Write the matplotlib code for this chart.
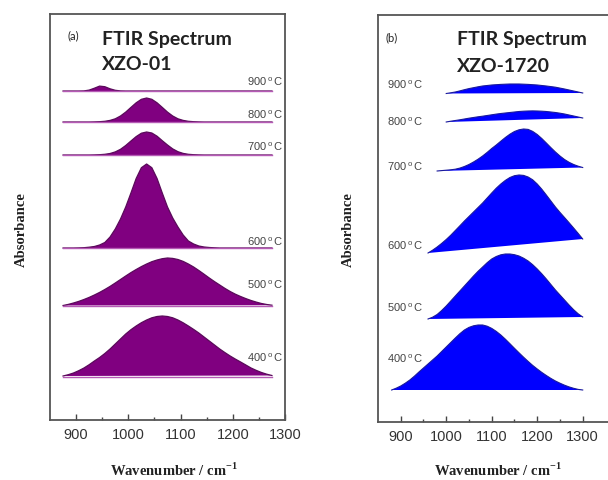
import numpy as np
import matplotlib
matplotlib.use('Agg')
import matplotlib.pyplot as plt

plt.rcParams['mathtext.fontset'] = 'custom'
plt.rcParams['mathtext.rm'] = 'Liberation Serif:bold'
plt.rcParams['mathtext.sf'] = 'Liberation Sans'

temps = ['400', '500', '600', '700', '800', '900']
nan = np.nan

# (a) XZO-01: wavenumber grid and absorbance of each spectrum (arb. units)
wn_a = [875, 885, 895, 905, 915, 925, 935, 945, 955, 965, 975, 985, 995, 1005,
        1015, 1025, 1035, 1045, 1055, 1065, 1075, 1085, 1095, 1105, 1115, 1125,
        1135, 1145, 1155, 1165, 1175, 1185, 1195, 1205, 1215, 1225, 1235, 1245,
        1255, 1265, 1275]
a400 = [1, 2.3, 4, 6.3, 9, 12.3, 16, 19.5, 23.5, 28, 33, 38, 43, 47.3, 51, 54.3,
        57, 59.2, 60.5, 61, 60.5, 59.2, 57, 54.2, 51, 47.6, 44, 40, 36, 32, 28,
        24.4, 21, 17.9, 15, 12, 9, 6.6, 4.5, 2.8, 1.5]
a500 = [0.5, 1.6, 3, 4.6, 6.5, 8.6, 11, 13.6, 16.5, 19.6, 23, 26.5, 30, 33.4,
        36.5, 39.4, 42, 44.3, 46, 47.3, 48, 47.6, 46.5, 44.6, 42, 39, 35.5, 31.8,
        28, 24.4, 21, 17.6, 14.5, 11.8, 9.5, 7.4, 5.5, 3.9, 2.5, 1.5, 0.8]
a600 = [0, 0, 0, 0.1, 0.3, 0.8, 1.5, 3, 5.5, 11, 19, 29, 41, 55, 69.5, 80.3, 84,
        80.3, 69.5, 55, 41, 30, 21, 13, 7, 4, 2, 1, 0.5, 0.2,
        0, 0, 0, 0, 0, 0, 0, 0, 0, 0, 0]
a700 = [0, 0, 0, 0, 0, 0, 0.1, 0.3, 0.7, 1.5, 3.1, 5.7, 9.5, 14.0, 18.4, 21.8,
        23, 22, 18.8, 14.3, 10, 6.1, 3.3, 1.6, 0.7, 0.3, 0.1,
        0, 0, 0, 0, 0, 0, 0, 0, 0, 0, 0, 0, 0, 0]
a800 = [0, 0, 0, 0, 0, 0, 0.1, 0.3, 0.7, 1.6, 3.2, 6.0, 9.9, 14.6, 19.2, 22.7,
        24, 22.7, 19.2, 14.6, 9.9, 6.0, 3.2, 1.6, 0.7, 0.3, 0.1,
        0, 0, 0, 0, 0, 0, 0, 0, 0, 0, 0, 0, 0, 0]
a900 = [0, 0, 0, 0, 0.1, 0.9, 2.8, 4.9, 4.3, 2.2, 0.7, 0.1,
        0, 0, 0, 0, 0, 0, 0, 0, 0, 0, 0, 0, 0, 0, 0, 0, 0, 0,
        0, 0, 0, 0, 0, 0, 0, 0, 0, 0, 0]
offset_a = [43, 114, 172, 265, 298, 329]

# (b) XZO-1720
wn_b = [880, 890, 900, 910, 920, 930, 940, 950, 960, 970, 980, 990, 1000, 1010,
        1020, 1030, 1040, 1050, 1060, 1070, 1080, 1090, 1100, 1110, 1120, 1130,
        1140, 1150, 1160, 1170, 1180, 1190, 1200, 1210, 1220, 1230, 1240, 1250,
        1260, 1270, 1280, 1290, 1300]
b400 = [1, 2.8, 5, 7.8, 11, 14.8, 19, 23, 27, 31, 35, 39.5, 44, 48.5, 53, 57.3,
        61, 63.6, 65.2, 66, 66, 64.8, 62.6, 59.6, 56, 51.8, 47.3, 42.7, 38.2,
        33.8, 29.6, 25.6, 22, 18.6, 15.5, 12.6, 10, 7.8, 5.8, 4.1, 2.7, 1.6, 1]
b500 = [nan] * 8 + [0, 1.8, 4.5, 8.5, 13, 18, 23, 28, 33, 38, 43, 47.7, 52, 56.3,
                    60, 62.5, 64.2, 65, 65, 64.3, 63, 60.8, 58, 54.3, 50, 45.2,
                    40, 34.5, 29, 24, 19, 14, 9.3, 5.2, 2]
b600 = [nan] * 8 + [0, 2.8, 6, 9.6, 13.5, 17.8, 22.5, 27.2, 32, 36.5, 41, 45.5,
                    50, 55, 60, 64.8, 69, 72.6, 75.5, 77.3, 78, 77.6, 76, 73.2,
                    69, 63.8, 58, 52, 46, 40.6, 35.5, 30.3, 25, 19.6, 14]
b700 = [nan] * 10 + [0, 0.4, 0.8, 1.2, 1.8, 2.9, 4.5, 6.5, 9, 11.8, 15, 18.6,
                     22.5, 26, 29.8, 33.5, 36.8, 39.5, 41.2, 42, 41.6, 39.6, 36.5,
                     32.5, 28, 23.4, 19, 15, 11.5, 8.7, 6.5, 4.8, 3.5]
b800 = [nan] * 12 + [0, 0.8, 1.5, 2.2, 3, 3.8, 4.5, 5.2, 5.8, 6.5, 7.2, 7.9, 8.5,
                     9, 9.5, 10, 10.5, 10.8, 11, 11.1, 11, 10.8, 10.5, 10, 9.5,
                     8.8, 8, 7, 6, 5, 4]
b900 = [nan] * 12 + [0.5, 1.2, 2, 3.1, 4.3, 5.4, 6.3, 7.2, 8, 8.5, 9, 9.3, 9.6,
                     9.8, 10, 10, 10, 9.8, 9.6, 9.3, 9, 8.5, 8, 7.4, 6.8, 5.9, 5,
                     4, 3, 2, 1]
offset_b = [31, 103, 169, 251, 300, 328]

lab_y_a = [59, 132, 175, 270, 302, 335]
lab_y_b = [60, 111, 173, 252, 297, 334]

fig = plt.figure(figsize=(6.08, 4.81), dpi=100)
ax_a = fig.add_axes([50/608, 60/481, 235/608, 406/481])
ax_b = fig.add_axes([378/608, 58/481, 232/608, 407/481])


def style(ax, xlim, ylim):
    ax.set_xlim(*xlim)
    ax.set_ylim(*ylim)
    ax.set_yticks([])
    ax.set_xticks([900, 1000, 1100, 1200, 1300])
    ax.set_xticks([950, 1050, 1150, 1250], minor=True)
    ax.tick_params(axis='x', which='major', direction='in', length=4, width=1,
                   color='#444', labelsize=10.5, labelcolor='#333', pad=5)
    ax.tick_params(axis='x', which='minor', direction='in', length=2.5, width=1, color='#444')
    for lab in ax.get_xticklabels():
        lab.set_family('Liberation Sans')
    for sp in ax.spines.values():
        sp.set_color('#555')
        sp.set_linewidth(1.3)


style(ax_a, (850, 1300), (0, 406))
style(ax_b, (850, 1360), (0, 407))

deg = r'$\,^{\mathsf{o}}\,$C'

x = np.array(wn_a)
for t, vals, off, ly in zip(temps, [a400, a500, a600, a700, a800, a900], offset_a, lab_y_a):
    y = off + np.array(vals)
    ax_a.fill(x, y, color='#800080', lw=0)
    ax_a.plot(x, y, color='#5a0a5a', lw=0.9)
    ax_a.plot([x[0], x[-1]], [off, off], color='#b55ab5', lw=1)
    ax_a.text(1297, ly, t + deg, ha='right', va='baseline',
              fontsize=8, color='#444', family='Liberation Sans')

x = np.array(wn_b)
for t, vals, off, ly in zip(temps, [b400, b500, b600, b700, b800, b900], offset_b, lab_y_b):
    v = np.array(vals)
    ok = ~np.isnan(v)
    y = off + v[ok]
    ax_b.fill(x[ok], y, color='#0000ff', lw=0)
    ax_b.plot(x[ok], y, color='#1a1a9a', lw=0.8)
    ax_b.text(870, ly, t + deg, ha='left', va='baseline',
              fontsize=8, color='#444', family='Liberation Sans')

# panel titles
fig.text(68/608, 0.919, '(a)', fontsize=8, color='#222', family='Lato')
fig.text(102/608, 0.9064, 'FTIR Spectrum', fontsize=14, fontweight='bold', color='#222', family='Lato')
fig.text(102/608, 0.8545, 'XZO-01', fontsize=14, fontweight='bold', color='#222', family='Lato')
fig.text(385/608, 0.9148, '(b)', fontsize=8, color='#222', family='Lato')
fig.text(457/608, 0.9064, 'FTIR Spectrum', fontsize=14, fontweight='bold', color='#222', family='Lato')
fig.text(457/608, 0.850, 'XZO-1720', fontsize=14, fontweight='bold', color='#222', family='Lato')

for xc in [21/608, 348/608]:
    fig.text(xc, 1 - 230/481, 'Absorbance', rotation=90, ha='center', va='center',
             fontsize=10.5, fontweight='bold', family='Liberation Serif', color='#222')
for xc in [174/608, 498/608]:
    fig.text(xc, 1 - 476/481, r'Wavenumber / cm$^{\mathrm{-1}}$', ha='center', va='baseline',
             fontsize=10.5, fontweight='bold', family='Liberation Serif', color='#222')

fig.savefig('out.png', dpi=100)
